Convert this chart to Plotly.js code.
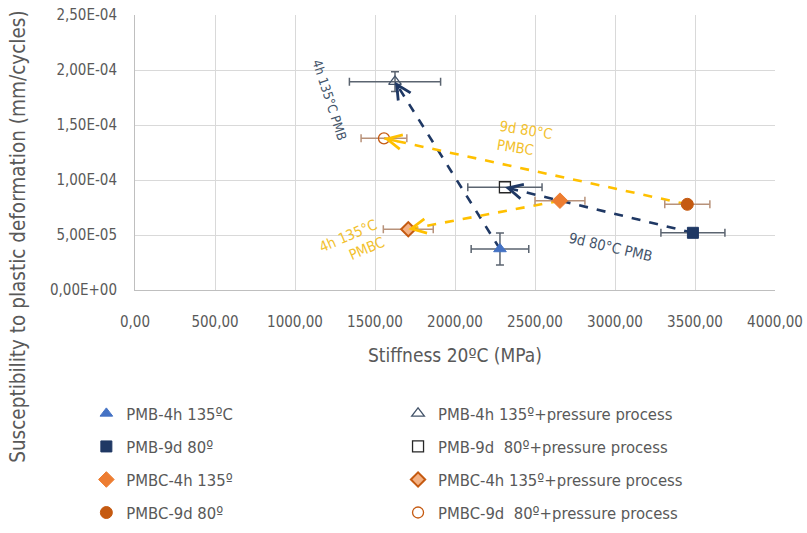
<!DOCTYPE html>
<html>
<head>
<meta charset="utf-8">
<script src="https://cdn.plot.ly/plotly-3.0.1.min.js"></script>
<style>html,body{margin:0;padding:0;background:#fff;}#chart{width:807px;height:533px;}</style>
</head>
<body>
<div id="chart"></div>
<script>
// ---- data ----
const seriesNames = [
  "PMB-4h 135ºC", "PMB-4h 135º+pressure process",
  "PMB-9d 80º", "PMB-9d  80º+pressure process",
  "PMBC-4h 135º", "PMBC-4h 135º+pressure process",
  "PMBC-9d 80º", "PMBC-9d  80º+pressure process"
];
const stiffness    = [2281, 1625, 3487, 2312, 2656, 1708, 3452, 1556];
const stiffnessErr = [180, 285, 200, 232, 156, 156, 141, 143];
const suscept      = [3.73e-5, 1.894e-4, 5.2e-5, 9.34e-5, 8.12e-5, 5.52e-5, 7.79e-5, 1.379e-4];
const susceptErr   = [1.45e-5, 9e-6, 0, 0, 0, 0, 0, 0];
const arrowFrom = [0, 2, 6, 4];
const arrowTo   = [1, 3, 7, 5];
const xTickVals = [0, 500, 1000, 1500, 2000, 2500, 3000, 3500, 4000];
const xTickText = ["0,00","500,00","1000,00","1500,00","2000,00","2500,00","3000,00","3500,00","4000,00"];
const yTickVals = [0, 5e-5, 1e-4, 1.5e-4, 2e-4, 2.5e-4];
const yTickText = ["0,00E+00","5,00E-05","1,00E-04","1,50E-04","2,00E-04","2,50E-04"];

// ---- styles ----
const FONT = "'DejaVu Sans Condensed', 'Open Sans', sans-serif";
const GREY = "#595959";
const NAVY = "#1F3864";
const YELLOW = "#FFC000";
const markerStyles = [
  {symbol:"triangle-up", size:11, color:"#4472C4", line:{color:"#4472C4", width:1}},
  {symbol:"triangle-up", size:11, color:"rgba(255,255,255,0)", line:{color:"#44546A", width:1.3}},
  {symbol:"square", size:11, color:NAVY, line:{color:NAVY, width:1}},
  {symbol:"square", size:11, color:"rgba(255,255,255,0)", line:{color:"#262626", width:1.3}},
  {symbol:"diamond", size:12, color:"#ED7D31", line:{color:"#ED7D31", width:1}},
  {symbol:"diamond", size:11, color:"#F4B183", line:{color:"#C55A11", width:2}},
  {symbol:"circle", size:12, color:"#C55A11", line:{color:"#C55A11", width:1}},
  {symbol:"circle", size:11, color:"rgba(255,255,255,0)", line:{color:"#C55A11", width:1.3}}
];
const errColors = ["#5B6470","#5B6470","#5B6470","#5B6470","#B8927A","#B8927A","#B8927A","#B8927A"];
const arrowColors = [NAVY, NAVY, YELLOW, YELLOW];

const traces = [];
// dashed connecting lines
arrowFrom.forEach((f, k) => {
  const t = arrowTo[k];
  traces.push({
    x: [stiffness[f], stiffness[t]], y: [suscept[f], suscept[t]],
    mode: "lines", type: "scatter", showlegend: false, hoverinfo: "skip",
    line: {color: arrowColors[k], width: 2.6, dash: "dash"}
  });
});
// points
seriesNames.forEach((name, i) => {
  traces.push({
    x: [stiffness[i]], y: [suscept[i]], name: name,
    mode: "markers", type: "scatter",
    marker: markerStyles[i],
    error_x: {type: "data", array: [stiffnessErr[i]], color: errColors[i], thickness: 1.5, width: 4},
    error_y: {type: "data", array: [susceptErr[i]], color: errColors[i], thickness: 1.5, width: 4, visible: susceptErr[i] > 0},
    legend: (i % 2 === 0) ? "legend" : "legend2",
    legendgroup: "g" + i
  });
});

const annotations = [];
// arrow heads
arrowFrom.forEach((f, k) => {
  const t = arrowTo[k];
  const fr = 0.05;
  annotations.push({
    x: stiffness[t], y: suscept[t], xref: "x", yref: "y",
    ax: stiffness[t] + fr * (stiffness[f] - stiffness[t]),
    ay: suscept[t] + fr * (suscept[f] - suscept[t]),
    axref: "x", ayref: "y", text: "", showarrow: true,
    arrowhead: 5, arrowsize: 1.1, arrowwidth: 2.6, arrowcolor: arrowColors[k]
  });
});
// labels
const lab = (text, x, y, ang, color, size, align) => ({
  text: text, x: x, y: y, xref: "x", yref: "y", showarrow: false, textangle: ang,
  align: align || "center", font: {family: FONT, size: size, color: color}
});
annotations.push(lab("4h 135°C PMB", 1219, 1.727e-4, 72, "#44546A", 13));
annotations.push(lab("9d 80°C PMB", 2969, 3.9e-5, 13, "#44546A", 14.5));
annotations.push(lab("9d 80°C<br>PMBC", 2437, 1.364e-4, 9, "#F2C12E", 14.5, "left"));
annotations.push(lab("4h 135°C<br>PMBC", 1356, 4.18e-5, -23, "#F2C12E", 14.5, "right"));
// axis titles
annotations.push({text: "Stiffness 20ºC (MPa)", xref: "paper", yref: "paper", x: 0.5, y: -0.236,
  showarrow: false, xanchor: "center", yanchor: "middle", font: {family: FONT, size: 19, color: GREY}});
annotations.push({text: "Susceptibility to plastic deformation (mm/cycles)", xref: "paper", yref: "paper",
  x: -0.183, y: 0.193, textangle: -90, showarrow: false, xanchor: "center", yanchor: "middle",
  font: {family: FONT, size: 20.5, color: GREY}});

const legendBase = {
  orientation: "v", xanchor: "left", yanchor: "top", y: -0.386,
  font: {family: FONT, size: 16.5, color: GREY}, bgcolor: "rgba(0,0,0,0)",
  tracegroupgap: 8.6, itemclick: false, itemdoubleclick: false
};

const layout = {
  width: 807, height: 533,
  margin: {l: 135, r: 32, t: 15, b: 243, autoexpand: false},
  paper_bgcolor: "#fff", plot_bgcolor: "#fff",
  font: {family: FONT, color: GREY},
  xaxis: {
    range: [0, 4000], tickvals: xTickVals, ticktext: xTickText,
    showgrid: true, gridcolor: "#D9D9D9", gridwidth: 1, zeroline: false,
    showline: true, linecolor: "#BFBFBF", linewidth: 1, ticks: "", automargin: false,
    ticklabelstandoff: 18, tickfont: {family: FONT, size: 15, color: GREY}
  },
  yaxis: {
    range: [0, 2.5e-4], tickvals: yTickVals, ticktext: yTickText,
    showgrid: true, gridcolor: "#D9D9D9", gridwidth: 1, zeroline: false,
    showline: true, linecolor: "#BFBFBF", linewidth: 1, ticks: "", automargin: false,
    ticklabelstandoff: 14, tickfont: {family: FONT, size: 15, color: GREY}
  },
  legend: Object.assign({}, legendBase, {x: -0.076}),
  legend2: Object.assign({}, legendBase, {x: 0.411}),
  annotations: annotations,
  showlegend: true
};

Plotly.newPlot("chart", traces, layout, {displayModeBar: false, staticPlot: true});
</script>
</body>
</html>
